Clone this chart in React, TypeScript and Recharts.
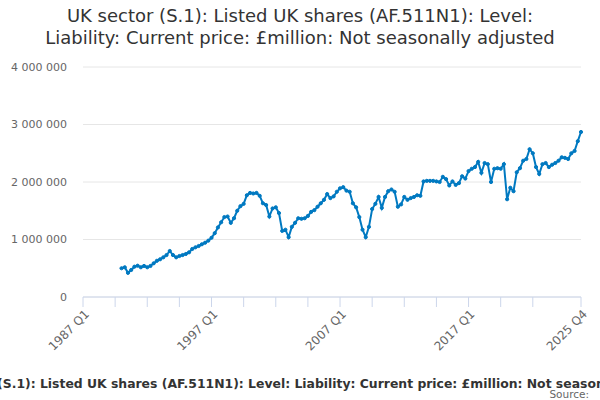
import { CartesianGrid, Line, LineChart, XAxis, YAxis } from "recharts";

const FIRST_YEAR = 1987;
const START_QUARTER = 12; // 1990 Q1, counted from 1987 Q1

// £million, quarterly
const values1990s = [
  500000, 517000, 420000, 470000,
  527000, 544000, 517000, 540000,
  517000, 540000, 586000, 630000,
  656000, 690000, 730000, 800000,
  730000, 690000, 713000, 730000,
  748000, 777000, 835000, 864000,
  887000, 917000, 944000, 980000,
  1030000, 1110000, 1210000, 1300000,
  1390000, 1400000, 1290000, 1370000,
  1500000, 1580000, 1620000, 1770000,
];
const values2000s = [
  1810000, 1800000, 1810000, 1760000,
  1630000, 1600000, 1400000, 1540000,
  1560000, 1460000, 1150000, 1170000,
  1040000, 1220000, 1290000, 1370000,
  1360000, 1370000, 1410000, 1480000,
  1510000, 1570000, 1630000, 1690000,
  1790000, 1720000, 1750000, 1830000,
  1890000, 1910000, 1850000, 1830000,
  1630000, 1560000, 1390000, 1170000,
  1040000, 1220000, 1530000, 1620000,
];
const values2010s = [
  1740000, 1550000, 1740000, 1840000,
  1870000, 1830000, 1570000, 1610000,
  1740000, 1690000, 1720000, 1740000,
  1770000, 1760000, 2010000, 2020000,
  2020000, 2020000, 2010000, 2000000,
  2090000, 2050000, 1940000, 2010000,
  1950000, 1980000, 2100000, 2060000,
  2190000, 2230000, 2260000, 2350000,
  2160000, 2330000, 2310000, 2000000,
  2230000, 2240000, 2230000, 2310000,
];
const values2020s = [
  1700000, 1900000, 1840000, 2170000,
  2240000, 2370000, 2400000, 2570000,
  2500000, 2260000, 2140000, 2310000,
  2330000, 2260000, 2300000, 2330000,
  2370000, 2430000, 2420000, 2400000,
  2500000, 2540000, 2710000, 2870000,
];

const X_TICKS = [0, 10, 20, 30, 40, 50, 60, 70, 80, 90, 100, 110, 120, 130, 140, 155];
const X_LABELLED = [0, 40, 80, 120, 155];
const Y_TICKS = [0, 1000000, 2000000, 3000000, 4000000];

const TITLE = "UK sector (S.1): Listed UK shares (AF.511N1): Level: Liability: Current price: £million: Not seasonally adjusted";

const data = [...values1990s, ...values2000s, ...values2010s, ...values2020s].map((value, k) => ({
  q: START_QUARTER + k,
  value,
}));

const quarterLabel = (i: number) => `${FIRST_YEAR + Math.floor(i / 4)} Q${(i % 4) + 1}`;
const spaced = (v: number) => String(v).replace(/\B(?=(\d{3})+(?!\d))/g, " ");

const FONT = "'DejaVu Sans', sans-serif";
const BLUE = "#0079c1";

function XTick(props: any) {
  const { x, y, payload } = props;
  if (!X_LABELLED.includes(payload.value)) return <g />;
  return (
    <text
      x={x + 4}
      y={y + 3}
      transform={`rotate(-45 ${x + 4} ${y + 3})`}
      textAnchor="end"
      fontSize={12}
      fill="#666666"
      fontFamily={FONT}
      dy="0.35em"
    >
      {quarterLabel(payload.value)}
    </text>
  );
}

export default function App() {
  return (
    <div style={{ position: "absolute", left: 0, top: 0, width: 600, height: 400, overflow: "hidden", background: "#fff", fontFamily: FONT }}>
      <div style={{ position: "absolute", top: 5, left: 0, width: 600, textAlign: "center", fontSize: 18, lineHeight: "22px", color: "#333333" }}>
        UK sector (S.1): Listed UK shares (AF.511N1): Level:
        <br />
        Liability: Current price: £million: Not seasonally adjusted
      </div>
      <LineChart width={600} height={400} data={data} margin={{ top: 67, right: 19, bottom: 0, left: 0 }}>
        <CartesianGrid vertical={false} stroke="#e6e6e6" />
        <XAxis
          dataKey="q"
          type="number"
          domain={[0, 155]}
          ticks={X_TICKS}
          interval={0}
          height={103}
          tickSize={10}
          tickMargin={2}
          axisLine={{ stroke: "#ccd6eb" }}
          tickLine={{ stroke: "#ccd6eb" }}
          tick={<XTick />}
        />
        <YAxis
          type="number"
          domain={[0, 4000000]}
          ticks={Y_TICKS}
          width={83}
          axisLine={false}
          tickLine={false}
          tickSize={0}
          tickMargin={16}
          tickFormatter={spaced}
          tick={{ fontSize: 11, fill: "#666666", fontFamily: FONT }}
        />
        <Line
          dataKey="value"
          stroke={BLUE}
          strokeWidth={2}
          dot={{ r: 1.6, fill: BLUE, stroke: BLUE, strokeWidth: 1 }}
          activeDot={false}
          isAnimationActive={false}
        />
      </LineChart>
      <div style={{ position: "absolute", top: 376, left: -90, width: 800, textAlign: "center", whiteSpace: "nowrap", fontSize: 12.4, lineHeight: "15px", fontWeight: "bold", color: "#333333" }}>
        {TITLE}
      </div>
      <div style={{ position: "absolute", top: 389, right: 11, fontSize: 10.5, lineHeight: "11px", color: "#666666" }}>Source:</div>
    </div>
  );
}
